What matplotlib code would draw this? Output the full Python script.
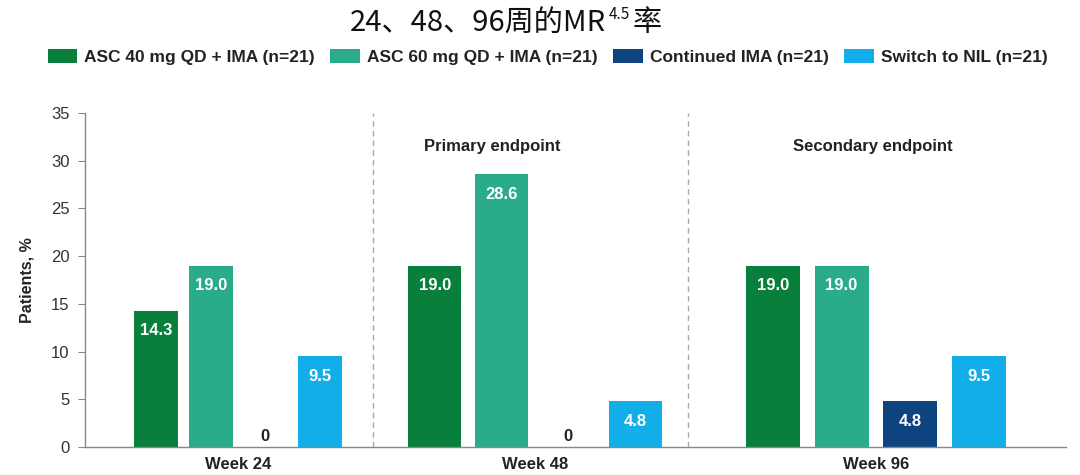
import matplotlib
matplotlib.use("Agg")
import matplotlib.pyplot as plt
from matplotlib.patches import Patch

# data
groups = ["Week 24", "Week 48", "Week 96"]
series = ["ASC 40 mg QD + IMA (n=21)", "ASC 60 mg QD + IMA (n=21)",
          "Continued IMA (n=21)", "Switch to NIL (n=21)"]
asc40 = [14.3, 19.0, 19.0]
asc60 = [19.0, 28.6, 19.0]
cont_ima = [0, 0, 4.8]
switch_nil = [9.5, 4.8, 9.5]
endpoints = ["", "Primary endpoint", "Secondary endpoint"]
yticks = [0, 5, 10, 15, 20, 25, 30, 35]

colors = ["#08803c", "#2aab89", "#0d4480", "#11aeea"]

# layout (axis units, roughly pixels of the reference)
group_centers = [153, 450, 791]
group_pitch = [54.7, 66.7, 68.7]
bar_widths = [44, 53, 54]
dividers = [288, 603]
endpoint_x = [0, 407, 788]

plt.rcParams['font.family'] = ['Liberation Sans', 'DejaVu Sans']

fig = plt.figure(figsize=(10.8, 4.75), dpi=100)
ax = fig.add_axes([0.0787, 0.0589, 0.9083, 0.7031])

values = [asc40, asc60, cont_ima, switch_nil]
for s, vals in enumerate(values):
    for g, v in enumerate(vals):
        x = group_centers[g] + (s - 1.5) * group_pitch[g]
        ax.bar(x, v, width=bar_widths[g], color=colors[s], linewidth=0)
        if v > 0:
            ax.text(x, v - 2.1, f"{v:.1f}", ha="center", va="center",
                    color="white", fontsize=12, fontweight="bold")
        else:
            ax.text(x, 0.35, "0", ha="center", va="bottom",
                    color="#222222", fontsize=12, fontweight="bold")

for d in dividers:
    ax.plot([d, d], [0, 35], color="#aaaaaa", lw=1, ls=(0, (4, 3)))

for g, label in enumerate(endpoints):
    if label:
        ax.text(endpoint_x[g], 31.5, label, ha="center", va="center",
                color="#222222", fontsize=12, fontweight="bold")

ax.set_xlim(0, 981)
ax.set_ylim(0, 35)
ax.set_yticks(yticks)
ax.set_xticks(group_centers)
ax.set_xticklabels(groups, fontsize=12, fontweight="bold", color="#222222")
ax.tick_params(axis="x", length=0, pad=7)
ax.tick_params(axis="y", length=5, color="#888888", labelsize=12,
               labelcolor="#333333", pad=6)
for side in ["top", "right"]:
    ax.spines[side].set_visible(False)
for side in ["left", "bottom"]:
    ax.spines[side].set_color("#888888")
    ax.spines[side].set_linewidth(1)
ax.set_ylabel("Patients, %", fontsize=11.5, fontweight="bold", color="#222222",
              labelpad=12)

handles = [Patch(facecolor=c, edgecolor="none") for c in colors]
fig.legend(handles, series, loc="center", bbox_to_anchor=(0.507, 0.88),
           ncol=4, frameon=False, handlelength=1.7, handleheight=0.85,
           handletextpad=0.4, columnspacing=0.9,
           prop={"size": 12.5, "weight": "bold"}, labelcolor="#222222")

# title with superscript
cjk = ['Noto Sans CJK SC', 'DejaVu Sans']
fig.canvas.draw()
renderer = fig.canvas.get_renderer()
t1 = fig.text(350 / 1080, 1 - 31 / 475, "24、48、96周的MR", family=cjk,
              fontsize=21, color="#111111", ha="left", va="baseline")
bb = t1.get_window_extent(renderer)
t2 = fig.text(bb.x1 / 1080 + 0.002, 1 - 19 / 475, "4.5", family=cjk,
              fontsize=11, color="#111111", ha="left", va="baseline")
bb2 = t2.get_window_extent(renderer)
fig.text(bb2.x1 / 1080 + 0.003, 1 - 31 / 475, "率", family=cjk,
         fontsize=21, color="#111111", ha="left", va="baseline")

fig.savefig("out.png", dpi=100)
